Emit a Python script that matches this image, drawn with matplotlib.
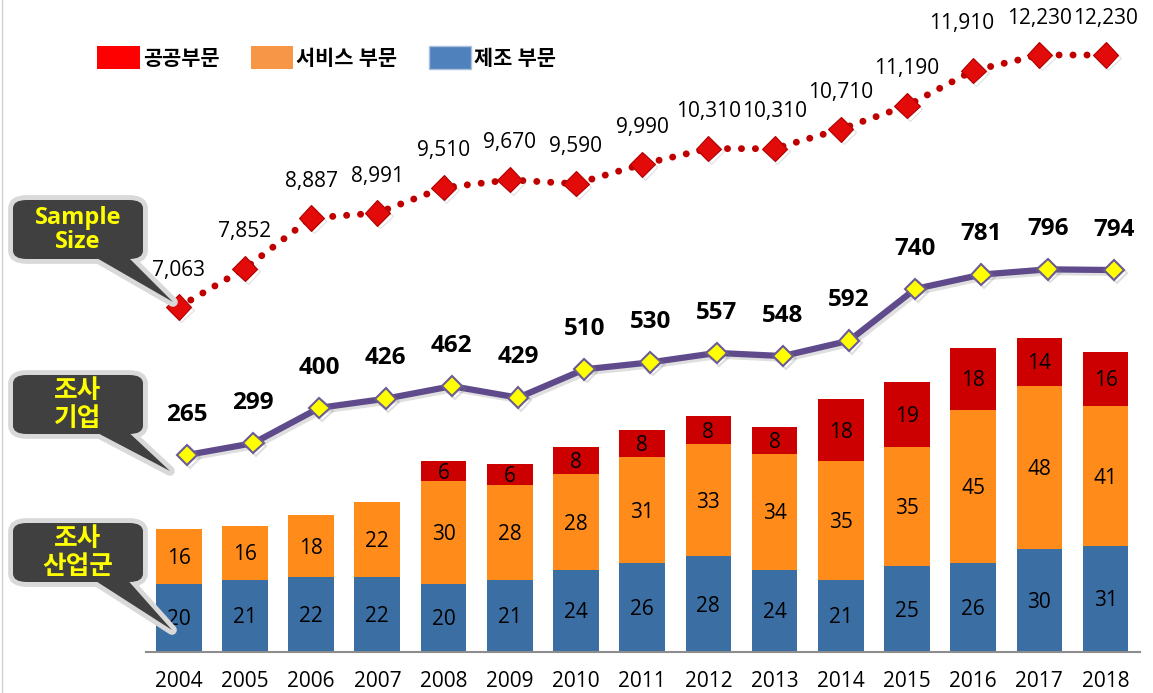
import numpy as np
import matplotlib
matplotlib.use("Agg")
import matplotlib.pyplot as plt
import matplotlib.patheffects as pe
from matplotlib.patches import Patch, FancyBboxPatch, Polygon
from matplotlib.transforms import ScaledTranslation

plt.rcParams['font.family'] = ['Open Sans', 'Noto Sans CJK KR']

years = ['2004', '2005', '2006', '2007', '2008', '2009', '2010', '2011',
         '2012', '2013', '2014', '2015', '2016', '2017', '2018']
manufacturing = [20, 21, 22, 22, 20, 21, 24, 26, 28, 24, 21, 25, 26, 30, 31]
service = [16, 16, 18, 22, 30, 28, 28, 31, 33, 34, 35, 35, 45, 48, 41]
public = [0, 0, 0, 0, 6, 6, 8, 8, 8, 8, 18, 19, 18, 14, 16]
companies = [265, 299, 400, 426, 462, 429, 510, 530, 557, 548, 592, 740, 781, 796, 794]
sample_size = [7063, 7852, 8887, 8991, 9510, 9670, 9590, 9990, 10310, 10310,
               10710, 11190, 11910, 12230, 12230]
legend_labels = ['공공부문', '서비스 부문', '제조 부문']

W, H = 1153, 693
fig = plt.figure(figsize=(W / 100, H / 100), dpi=100)
fig.patch.set_facecolor('white')

base_px = 651.7
ax = fig.add_axes([146 / W, (H - base_px) / H, (1140 - 146) / W, base_px / H])
x = np.arange(len(years))

c_blue, c_orange, c_red = '#3B6EA3', '#FF8C1A', '#CC0000'
bw = 0.69
b1 = ax.bar(x, manufacturing, bw, color=c_blue, zorder=2)
b2 = ax.bar(x, service, bw, bottom=manufacturing, color=c_orange, zorder=2)
bot3 = np.array(manufacturing) + np.array(service)
b3 = ax.bar(x, public, bw, bottom=bot3, color=c_red, zorder=2)

for bars, vals in [(b1, manufacturing), (b2, service), (b3, public)]:
    for r, v in zip(bars, vals):
        if v == 0:
            continue
        ax.text(r.get_x() + r.get_width() / 2, r.get_y() + r.get_height() / 2 - 0.6,
                str(v), ha='center', va='center', fontsize=15, color='black', zorder=3)

ax.set_xlim(-0.494, 14.52)
ax.set_ylim(0, base_px / 3.41)
ax.set_xticks(x)
ax.set_xticklabels(years, fontsize=15)
ax.tick_params(axis='x', length=0, pad=14)
ax.set_yticks([])
for s in ['top', 'left', 'right']:
    ax.spines[s].set_visible(False)
ax.spines['bottom'].set_color('#8C8C8C')
ax.spines['bottom'].set_linewidth(1.5)
ax.patch.set_alpha(0)

shadow = [pe.SimpleLineShadow(offset=(2, -2), alpha=0.25, shadow_color='gray'), pe.Normal()]

# 조사기업 line
ax2 = ax.twinx()
ax2.set_ylim(-297.4, 1566.2)
shift = ax2.transData + ScaledTranslation(6 / 72, 0, fig.dpi_scale_trans)
ax2.plot(x, companies, color='#5F4B8B', lw=4.5, marker='D', ms=10.5,
         mfc='#FFFF00', mec='#6B5B95', mew=1.5, transform=shift,
         path_effects=shadow, zorder=4)
for xi, v in zip(x, companies):
    ax2.annotate(str(v), (xi, v), xytext=(6, 29), textcoords='offset points',
                 ha='center', va='center', fontsize=17.5, fontweight='bold')

# Sample size line
ax3 = ax.twinx()
ax3.set_ylim(-5, 13358)
ax3.plot(x, sample_size, color='#C00000', lw=5, linestyle=(0, (0.01, 2)),
         dash_capstyle='round', zorder=3)
ax3.plot(x, sample_size, linestyle='none', marker='D', ms=12.8,
         mfc='#E30A0A', mec='#B00000', mew=0.8, path_effects=shadow, zorder=4)
for xi, v in zip(x, sample_size):
    dx, dy = (0, 26.6)
    if years[xi] == '2016':
        dx, dy = (-8.6, 34)
    ax3.annotate(f'{v:,}', (xi, v), xytext=(dx, dy), textcoords='offset points',
                 ha='center', va='center', fontsize=15)

for a in (ax2, ax3):
    a.set_yticks([])
    for s in a.spines.values():
        s.set_visible(False)

# legend
handles = [Patch(facecolor='#FF0000'), Patch(facecolor='#F79646'),
           Patch(facecolor='#4F81BD', edgecolor='#A9C0DF')]
fig.legend(handles, legend_labels, loc='center left',
           bbox_to_anchor=(97 / W, 1 - 58 / H), ncol=3, frameon=False,
           prop={'weight': 'bold', 'size': 15}, handlelength=2.05,
           handleheight=1.3, handletextpad=0.15, columnspacing=1.5,
           borderpad=0, borderaxespad=0)


# callouts (pixel coordinates from the top-left corner)
def to_fig(pts):
    return [(a / W, 1 - b / H) for a, b in pts]


def callout(box, tip, lines, size):
    x0, y0, x1, y1 = box
    tail = [(88, y1 - 6), (124, y1 - 6), tip]
    for fc, ec, lw in [('#D9D9D9', '#D9D9D9', 7), ('#404040', 'none', 0)]:
        fig.add_artist(FancyBboxPatch((x0 / W, 1 - y1 / H), (x1 - x0) / W, (y1 - y0) / H,
                                      boxstyle='round,pad=0,rounding_size=0.012',
                                      transform=fig.transFigure, fc=fc, ec=ec, lw=lw,
                                      joinstyle='round', zorder=5))
        fig.add_artist(Polygon(to_fig(tail), closed=True, transform=fig.transFigure,
                               fc=fc, ec=ec, lw=lw, joinstyle='round', zorder=5))
    fig.text((x0 + x1) / 2 / W, 1 - (y0 + y1) / 2 / H, lines, ha='center', va='center',
             color='#FFFF00', fontsize=size, fontweight='bold', linespacing=1.0, zorder=6)


callout((13, 200, 143, 259), (173, 302), 'Sample\nSize', 17)
callout((13, 375, 143, 434), (170, 471), '조사\n기업', 18.5)
callout((13, 523, 143, 582), (172, 630), '조사\n산업군', 18.5)

fig.add_artist(plt.Line2D([2 / W, 2 / W], [0, 1], color='#D0D0D0', lw=1,
                          transform=fig.transFigure))

fig.savefig('out.png', dpi=100, facecolor='white')
